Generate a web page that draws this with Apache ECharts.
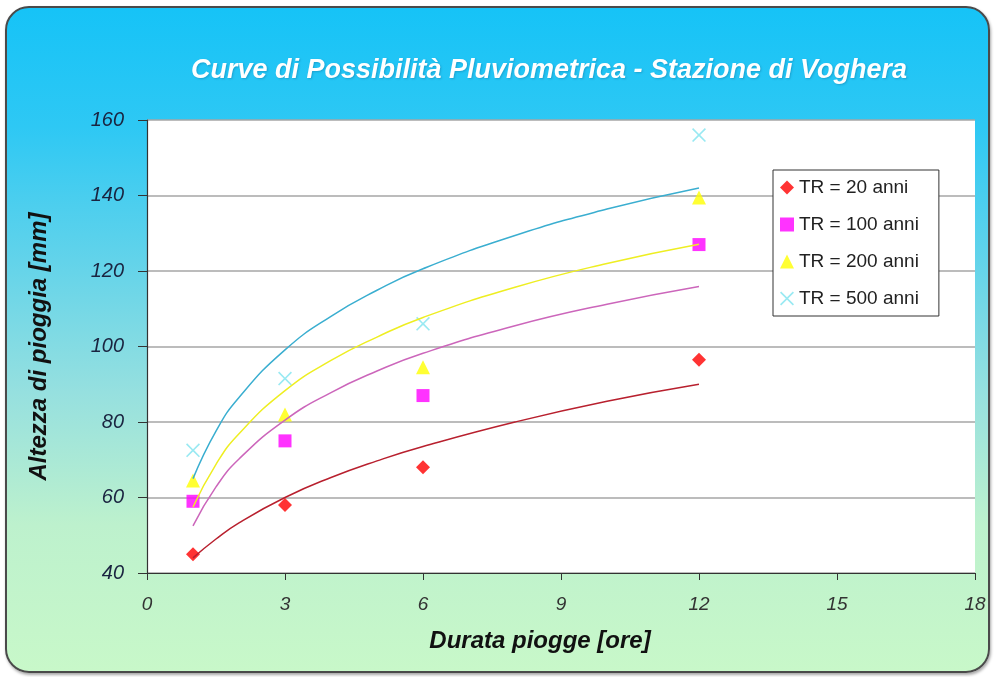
<!DOCTYPE html>
<html>
<head>
<meta charset="utf-8">
<script src="https://cdn.jsdelivr.net/npm/echarts@6/dist/echarts.min.js"></script>
<style>
  html, body { margin: 0; padding: 0; background: #ffffff; }
  #frame {
    position: absolute; left: 5px; top: 6px; width: 981px; height: 663px;
    border: 2px solid #4a4a4a; border-radius: 24px;
    background: linear-gradient(to bottom, #16c3f7 0%, #2ec8f4 18%, #62d3ea 38%, #96e0df 58%, #bdf1cd 78%, #c8f8c9 100%);
    box-shadow: 1px 2px 3px rgba(0,0,0,0.35);
  }
  #chart { position: absolute; left: 0; top: 0; width: 994px; height: 677px; }
</style>
</head>
<body>
<div id="frame"></div>
<div id="chart"></div>
<script>
// ---- data ----
const durations = [1, 3, 6, 12];
const tr20  = [45, 58, 68, 96.5];
const tr100 = [59, 75, 87, 127];
const tr200 = [64.5, 82, 94.5, 139.5];
const tr500 = [72.5, 91.5, 106, 156];

// trend curves
const curveT   = [1, 1.5, 2, 3, 4, 5, 6, 8, 10, 12];
const curve20  = [44, 49, 53.3, 60, 65.3, 69.7, 73.5, 80, 85.5, 90];
const curve100 = [52.5, 62.8, 70.2, 80.5, 87.8, 93.5, 98.2, 105.5, 111.2, 115.9];
const curve200 = [57.5, 68.8, 76.9, 88.3, 96.3, 102.5, 107.7, 115.7, 122.0, 127.1];
const curve500 = [65, 77.6, 86.5, 99.1, 108.0, 114.9, 120.6, 129.4, 136.4, 142.0];

const seriesNames = ['TR = 20 anni', 'TR = 100 anni', 'TR = 200 anni', 'TR = 500 anni'];
const titleText = 'Curve di Possibilità Pluviometrica - Stazione di Voghera';
const xName = 'Durata piogge [ore]';
const yName = 'Altezza di pioggia [mm]';

function pairs(xs, ys) { return xs.map((x, i) => [x, ys[i]]); }

const crossPath = 'path://M0,1 L1,0 L6,5 L11,0 L12,1 L7,6 L12,11 L11,12 L6,7 L1,12 L0,11 L5,6 Z';
const font = 'Liberation Sans, Arial, sans-serif';

const chart = echarts.init(document.getElementById('chart'), null, { renderer: 'canvas' });
chart.setOption({
  backgroundColor: 'transparent',
  animation: false,
  textStyle: { fontFamily: font },
  title: {
    text: titleText,
    left: 544, top: 52, textAlign: 'center',
    textStyle: { color: '#ffffff', fontSize: 27, fontWeight: 'bold', fontStyle: 'italic', fontFamily: font,
                 textShadowColor: 'rgba(0,60,100,0.25)', textShadowBlur: 2, textShadowOffsetX: 1, textShadowOffsetY: 1 }
  },
  grid: {
    left: 147, right: 19, top: 120, bottom: 104,
    show: true, backgroundColor: '#ffffff', borderWidth: 0
  },
  legend: {
    orient: 'vertical', left: 773, top: 170,
    data: seriesNames,
    backgroundColor: '#ffffff', borderColor: '#333333', borderWidth: 1,
    padding: [8, 20, 8, 7],
    itemWidth: 14, itemHeight: 14, itemGap: 18,
    textStyle: { fontSize: 19, color: '#222222', fontFamily: font }
  },
  xAxis: {
    type: 'value', min: 0, max: 18, interval: 3,
    name: xName, nameLocation: 'middle', nameGap: 56,
    nameTextStyle: { fontSize: 24, fontWeight: 'bold', fontStyle: 'italic', color: '#111', padding: [0, 42, 0, 0] },
    axisLine: { show: true, lineStyle: { color: '#333', width: 1.2 } },
    axisTick: { show: true, length: 7, lineStyle: { color: '#333' } },
    axisLabel: { fontSize: 19, fontStyle: 'italic', color: '#333', margin: 22 },
    splitLine: { show: false }
  },
  yAxis: {
    type: 'value', min: 40, max: 160, interval: 20,
    name: yName, nameLocation: 'middle', nameGap: 96,
    nameTextStyle: { fontSize: 24, fontWeight: 'bold', fontStyle: 'italic', color: '#111' },
    axisLine: { show: true, lineStyle: { color: '#333', width: 1.2 } },
    axisTick: { show: true, length: 9, lineStyle: { color: '#333' } },
    axisLabel: { fontSize: 20, fontStyle: 'italic', color: '#1a2440', margin: 23 },
    splitLine: { show: true, lineStyle: { color: '#a6a6a6', width: 1.5 } }
  },
  series: [
    { name: seriesNames[0], type: 'scatter', data: pairs(durations, tr20), symbol: 'diamond', symbolSize: 14, itemStyle: { color: '#ff0000' }, z: 3 },
    { name: seriesNames[1], type: 'scatter', data: pairs(durations, tr100), symbol: 'rect', symbolSize: 13, itemStyle: { color: '#ff00ff' }, z: 3 },
    { name: seriesNames[2], type: 'scatter', data: pairs(durations, tr200), symbol: 'triangle', symbolSize: 14, itemStyle: { color: '#ffff00' }, z: 3 },
    { name: seriesNames[3], type: 'scatter', data: pairs(durations, tr500), symbol: crossPath, symbolSize: 14, itemStyle: { color: '#7fe3ef' }, z: 3 },
    { name: 'trend20', type: 'line', data: pairs(curveT, curve20), smooth: true, symbol: 'none', lineStyle: { color: '#b8202e', width: 1.5 }, z: 4, silent: true },
    { name: 'trend100', type: 'line', data: pairs(curveT, curve100), smooth: true, symbol: 'none', lineStyle: { color: '#cc66bb', width: 1.5 }, z: 4, silent: true },
    { name: 'trend200', type: 'line', data: pairs(curveT, curve200), smooth: true, symbol: 'none', lineStyle: { color: '#eeee22', width: 1.5 }, z: 4, silent: true },
    { name: 'trend500', type: 'line', data: pairs(curveT, curve500), smooth: true, symbol: 'none', lineStyle: { color: '#3aaed0', width: 1.5 }, z: 4, silent: true }
  ]
});
</script>
</body>
</html>
